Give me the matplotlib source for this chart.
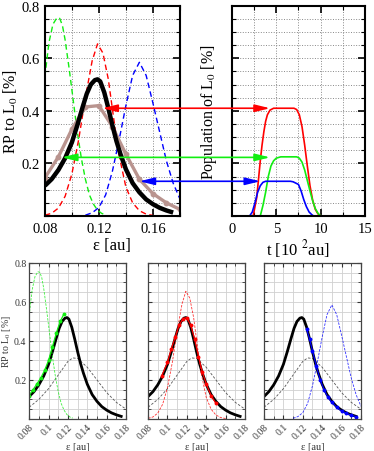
import matplotlib
matplotlib.use('Agg')
import matplotlib.pyplot as plt
from matplotlib.patches import ConnectionPatch
from matplotlib.ticker import MultipleLocator, FixedLocator, FormatStrFormatter

plt.rcParams['font.family'] = ['Liberation Serif', 'DejaVu Serif']
plt.rcParams['mathtext.fontset'] = 'stix'

# total RP spectrum (thick black)
eps = [0.080, 0.085, 0.090, 0.095, 0.100, 0.104, 0.108, 0.111, 0.114, 0.117, 0.119,
       0.121, 0.124, 0.127, 0.130, 0.133, 0.136, 0.140, 0.145, 0.150, 0.155, 0.160,
       0.165, 0.170, 0.175]
rp_total = [0.115, 0.14, 0.175, 0.22, 0.28, 0.345, 0.415, 0.465, 0.50, 0.517, 0.52,
            0.512, 0.47, 0.41, 0.345, 0.285, 0.235, 0.178, 0.125, 0.09, 0.063, 0.045,
            0.031, 0.021, 0.013]

# averaged curve with markers (top left)
eps_avg = [0.08, 0.09, 0.10, 0.11, 0.12, 0.13, 0.14, 0.15, 0.16, 0.17, 0.18]
rp_avg = [0.145, 0.225, 0.33, 0.415, 0.42, 0.34, 0.235, 0.14, 0.085, 0.05, 0.025]

# pulse spectra (dashed)
eps_green = [0.080, 0.083, 0.086, 0.089, 0.091, 0.093, 0.095, 0.098, 0.101, 0.104,
             0.107, 0.110, 0.113, 0.116, 0.119, 0.122, 0.125]
rp_green = [0.53, 0.66, 0.73, 0.755, 0.752, 0.725, 0.67, 0.56, 0.44, 0.32, 0.22, 0.14,
            0.08, 0.045, 0.022, 0.01, 0.004]
eps_red = [0.080, 0.085, 0.090, 0.095, 0.100, 0.105, 0.110, 0.115, 0.119, 0.123, 0.127,
           0.131, 0.135, 0.140, 0.145, 0.150, 0.155, 0.160]
rp_red = [0.003, 0.01, 0.03, 0.075, 0.16, 0.29, 0.45, 0.59, 0.655, 0.62, 0.52, 0.37,
          0.23, 0.11, 0.05, 0.02, 0.007, 0.002]
eps_blue = [0.110, 0.115, 0.120, 0.125, 0.130, 0.135, 0.140, 0.145, 0.150, 0.155, 0.160,
            0.165, 0.170, 0.175, 0.180]
rp_blue = [0.003, 0.012, 0.032, 0.08, 0.17, 0.29, 0.42, 0.535, 0.585, 0.535, 0.43, 0.32,
           0.21, 0.125, 0.065]

# broad reference spectrum (gray dashed, bottom row)
eps_broad = [0.08, 0.09, 0.10, 0.11, 0.12, 0.125, 0.13, 0.14, 0.15, 0.16, 0.17, 0.18]
rp_broad = [0.06, 0.10, 0.155, 0.225, 0.295, 0.313, 0.31, 0.265, 0.20, 0.135, 0.085, 0.05]

# sampled points along the spectrum
green_x = [0.080, 0.084, 0.088, 0.092, 0.096, 0.100, 0.104, 0.108, 0.112, 0.116]
green_y = [0.12, 0.15, 0.18, 0.21, 0.25, 0.30, 0.37, 0.44, 0.50, 0.54]
red_x = [0.094, 0.100, 0.104, 0.108, 0.112, 0.116, 0.120, 0.124, 0.128, 0.132, 0.136,
         0.140, 0.145, 0.150]
red_y = [0.22, 0.29, 0.36, 0.42, 0.48, 0.515, 0.52, 0.48, 0.41, 0.32, 0.24, 0.18, 0.12, 0.08]
blue_x = [0.124, 0.127, 0.130, 0.134, 0.138, 0.142, 0.146, 0.150, 0.155, 0.160, 0.165,
          0.170, 0.175]
blue_y = [0.46, 0.41, 0.35, 0.27, 0.20, 0.15, 0.11, 0.085, 0.06, 0.04, 0.028, 0.019, 0.012]

# population of L0 vs time
t_red = [2.4, 2.8, 3.0, 3.2, 3.4, 3.6, 3.8, 4.0, 4.3, 4.7, 7.0, 7.3, 7.6, 7.9, 8.2, 8.5,
         8.8, 9.1, 9.4, 9.7, 10.0]
pop_red = [0.0, 0.07, 0.14, 0.21, 0.27, 0.32, 0.36, 0.385, 0.403, 0.41, 0.41, 0.405,
           0.385, 0.34, 0.27, 0.19, 0.115, 0.06, 0.025, 0.008, 0.0]
t_green = [3.2, 3.5, 3.8, 4.1, 4.4, 4.7, 5.0, 5.5, 7.3, 7.6, 7.9, 8.2, 8.5, 8.8, 9.1,
           9.4, 9.7, 10.0]
pop_green = [0.0, 0.04, 0.09, 0.15, 0.19, 0.21, 0.22, 0.225, 0.225, 0.22, 0.205, 0.175,
             0.135, 0.095, 0.058, 0.028, 0.01, 0.0]
t_blue = [2.0, 2.3, 2.6, 2.9, 3.2, 3.5, 3.8, 6.6, 6.9, 7.2, 7.5, 7.8, 8.1, 8.4, 8.7,
          9.0, 9.2]
pop_blue = [0.0, 0.015, 0.05, 0.09, 0.115, 0.128, 0.132, 0.132, 0.13, 0.125, 0.12,
            0.095, 0.062, 0.035, 0.015, 0.005, 0.0]

# arrows: (eps tip, t tip, level)
arrows = [(0.1225, 4.3, 0.41, 'red'), (0.0925, 4.3, 0.223, '#11ee11'),
          (0.150, 3.2, 0.132, 'blue')]

bot_xticks = [0.08, 0.10, 0.12, 0.14, 0.16, 0.18]
bot_xlabels = ['0.08', '0.1', '0.12', '0.14', '0.16', '0.18']

GREEN = '#11ee11'

fig = plt.figure(figsize=(3.74, 4.52), dpi=100)


def style_top(ax):
    for s in ax.spines.values():
        s.set_linewidth(1.5)
    ax.set_ylim(0, 0.8)
    ax.yaxis.set_major_locator(FixedLocator([0.2, 0.4, 0.6, 0.8]))
    ax.yaxis.set_minor_locator(MultipleLocator(0.05))
    ax.yaxis.set_major_formatter(FormatStrFormatter('%.1f'))
    ax.tick_params(which='both', direction='in', top=True, right=True, labelsize=10.5, pad=4)
    ax.tick_params(which='major', length=5, width=1.2)
    ax.tick_params(which='minor', length=3, width=0.8)
    ax.grid(which='both', ls=':', color='#888888', lw=0.7)
    ax.set_axisbelow(True)


ax1 = fig.add_axes([0.120, 0.520, 0.361, 0.465])
style_top(ax1)
ax1.plot(eps_green, rp_green, color=GREEN, lw=1.0, dashes=(4, 2.5))
ax1.plot(eps_red, rp_red, color='red', lw=1.0, dashes=(4, 2.5))
ax1.plot(eps_blue, rp_blue, color='blue', lw=1.0, dashes=(4, 2.5))
ax1.plot(eps_avg, rp_avg, '-o', color='#b9948f', lw=2.4, ms=3.2)
ax1.plot(eps, rp_total, color='black', lw=3.2, solid_capstyle='butt')
ax1.set_xlim(0.08, 0.18)
ax1.xaxis.set_major_locator(FixedLocator([0.08, 0.12, 0.16]))
ax1.xaxis.set_minor_locator(MultipleLocator(0.02))
ax1.xaxis.set_major_formatter(FormatStrFormatter('%.2f'))
ax1.set_xlabel('ε [au]', fontsize=12, labelpad=2)
ax1.set_ylabel('RP to L$_0$ [%]', fontsize=11.5, labelpad=1)

ax2 = fig.add_axes([0.620, 0.520, 0.356, 0.465])
style_top(ax2)
ax2.plot(t_red, pop_red, color='red', lw=1.2)
ax2.plot(t_green, pop_green, color=GREEN, lw=1.2)
ax2.plot(t_blue, pop_blue, color='blue', lw=1.2)
ax2.set_xlim(0, 15)
ax2.xaxis.set_major_locator(FixedLocator([0, 5, 10, 15]))
ax2.xaxis.set_minor_locator(MultipleLocator(2.5))
ax2.tick_params(axis='y', labelleft=False)
ax2.set_xlabel('t [10 $^{2}$au]', fontsize=12, labelpad=2)
ax2.set_ylabel('Population of L$_0$ [%]', fontsize=11.5, labelpad=5)

for e_tip, t_tip, lev, col in arrows:
    con = ConnectionPatch(xyA=(e_tip, lev), coordsA=ax1.transData,
                          xyB=(t_tip, lev), coordsB=ax2.transData,
                          arrowstyle='<|-|>,head_length=0.9,head_width=0.22',
                          mutation_scale=10, color=col, lw=1.2,
                          shrinkA=0, shrinkB=0, zorder=10)
    fig.add_artist(con)


def style_bottom(ax, show_y):
    for s in ax.spines.values():
        s.set_linewidth(0.9)
        s.set_color('#444444')
    ax.set_xlim(0.08, 0.18)
    ax.set_ylim(0, 0.8)
    ax.xaxis.set_major_locator(FixedLocator(bot_xticks))
    ax.xaxis.set_minor_locator(MultipleLocator(0.01))
    ax.set_xticklabels(bot_xlabels, rotation=45, ha='right', va='top',
                       rotation_mode='anchor')
    ax.yaxis.set_major_locator(FixedLocator([0.2, 0.4, 0.6, 0.8]))
    ax.yaxis.set_minor_locator(MultipleLocator(0.05))
    ax.yaxis.set_major_formatter(FormatStrFormatter('%.1f'))
    ax.tick_params(which='both', direction='in', top=True, right=True, labelsize=7,
                   colors='#333333', pad=2)
    ax.tick_params(which='major', length=3, width=0.8)
    ax.tick_params(which='minor', length=2, width=0.6)
    ax.grid(which='both', ls='-', color='#d0d0d0', lw=0.6)
    ax.set_axisbelow(True)
    if not show_y:
        ax.tick_params(axis='y', labelleft=False)
    else:
        ax.set_ylabel('RP to L$_0$ [%]', fontsize=7, color='#333333', labelpad=1)
    ax.set_xlabel('ε [au]', fontsize=7.5, color='#333333', labelpad=1)
    ax.plot(eps_broad, rp_broad, color='#555555', lw=0.6, dashes=(3, 2))
    ax.plot(eps, rp_total, color='black', lw=2.0)


bottoms = [
    (0.078, eps_green, rp_green, green_x, green_y, GREEN),
    (0.396, eps_red, rp_red, red_x, red_y, 'red'),
    (0.706, eps_blue, rp_blue, blue_x, blue_y, 'blue'),
]
for i, (left, ex, ey, px, py, col) in enumerate(bottoms):
    ax = fig.add_axes([left, 0.071, 0.259, 0.345])
    style_bottom(ax, i == 0)
    ax.plot(ex, ey, color=col, lw=0.6, dashes=(3, 1.5), alpha=0.8)
    ax.plot(px, py, '-o', color=col, lw=0.9, ms=1.8)

fig.savefig('out.png', dpi=100)
